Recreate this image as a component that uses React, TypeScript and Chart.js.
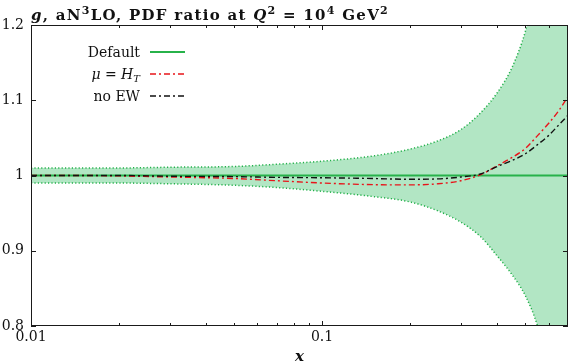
import React, { useEffect, useRef } from "react";
import { Chart, registerables } from "chart.js";
Chart.register(...registerables);

const X_VALUES = [0.01, 0.015, 0.02, 0.03, 0.05, 0.07, 0.1, 0.15, 0.2, 0.25, 0.3, 0.35, 0.4, 0.45, 0.5, 0.55, 0.6, 0.65, 0.7];
const BAND_UPPER = [1.010, 1.010, 1.010, 1.011, 1.012, 1.015, 1.019, 1.026, 1.035, 1.046, 1.061, 1.083, 1.110, 1.144, 1.192, 1.26, 1.35, 1.46, 1.58];
const BAND_LOWER = [0.990, 0.990, 0.990, 0.989, 0.987, 0.984, 0.979, 0.972, 0.965, 0.953, 0.938, 0.919, 0.893, 0.868, 0.840, 0.80, 0.74, 0.67, 0.59];
const DEFAULT_RATIO = [1, 1, 1, 1, 1, 1, 1, 1, 1, 1, 1, 1, 1, 1, 1, 1, 1, 1, 1];
const MU_HT = [1.000, 1.000, 0.9995, 0.998, 0.996, 0.993, 0.990, 0.9878, 0.9875, 0.989, 0.993, 1.001, 1.013, 1.024, 1.036, 1.053, 1.069, 1.086, 1.105];
const NO_EW = [1.000, 1.000, 1.000, 0.999, 0.9985, 0.9975, 0.997, 0.996, 0.995, 0.9955, 0.998, 1.002, 1.012, 1.020, 1.029, 1.041, 1.053, 1.067, 1.080];

const X_MAJOR = [0.01, 0.1];
const X_MINOR = [0.02, 0.03, 0.04, 0.05, 0.06, 0.07, 0.08, 0.09, 0.2, 0.3, 0.4, 0.5, 0.6];
const Y_TICKS = [0.8, 0.9, 1.0, 1.1, 1.2];
const LEGEND_LABELS = ["Default", "μ = H_T", "no EW"];

const SERIF = '"DejaVu Serif", serif';

type Seg = { t: string; font: string; dy?: number };

function drawSegs(ctx: any, segs: Seg[], x: number, y: number, align: "left" | "right", targetWidth?: number) {
  ctx.letterSpacing = "0px";
  let total = 0;
  let chars = 0;
  for (const s of segs) { ctx.font = s.font; total += ctx.measureText(s.t).width; chars += s.t.length; }
  let ls = 0;
  if (targetWidth) ls = Math.max(0, (targetWidth - total) / chars);
  const full = total + ls * chars;
  let cx = align === "left" ? x : x - full;
  ctx.textAlign = "left";
  ctx.textBaseline = "alphabetic";
  for (const s of segs) {
    ctx.font = s.font;
    ctx.letterSpacing = ls + "px";
    ctx.fillText(s.t, cx, y + (s.dy || 0));
    cx += ctx.measureText(s.t).width;
    ctx.letterSpacing = "0px";
  }
  return full;
}

const decor = {
  id: "decor",
  afterDatasetsDraw(chart: any) {
    const { ctx, chartArea, scales } = chart;
    const { left, right, top, bottom } = chartArea;
    const xs = scales.x, ys = scales.y;
    ctx.save();
    ctx.strokeStyle = "#1a1a1a";
    ctx.lineWidth = 1;
    ctx.strokeRect(left + 0.5, top + 0.5, right - left - 1, bottom - top - 1);
    ctx.beginPath();
    const tick = (v: number, len: number) => {
      const px = Math.round(xs.getPixelForValue(v)) + 0.5;
      ctx.moveTo(px, bottom); ctx.lineTo(px, bottom - len);
      ctx.moveTo(px, top); ctx.lineTo(px, top + len);
    };
    X_MAJOR.forEach((v) => tick(v, 5));
    X_MINOR.forEach((v) => tick(v, 3));
    Y_TICKS.forEach((v) => {
      const py = Math.round(ys.getPixelForValue(v)) + 0.5;
      ctx.moveTo(left, py); ctx.lineTo(left + 5, py);
      ctx.moveTo(right, py); ctx.lineTo(right - 5, py);
    });
    ctx.stroke();

    // title
    ctx.fillStyle = "#111";
    const size = 15;
    const b = `bold ${size}px ${SERIF}`;
    const bi = `italic bold ${size}px ${SERIF}`;
    const sup = `bold ${Math.round(size * 0.72)}px ${SERIF}`;
    const segs: Seg[] = [
      { t: "g", font: bi },
      { t: ", aN", font: b },
      { t: "3", font: sup, dy: -6 },
      { t: "LO, PDF ratio at ", font: b },
      { t: "Q", font: bi },
      { t: "2", font: sup, dy: -6 },
      { t: " = 10", font: b },
      { t: "4", font: sup, dy: -6 },
      { t: " GeV", font: b },
      { t: "2", font: sup, dy: -6 },
    ];
    drawSegs(ctx, segs, 31, 20, "left", 358);

    // legend
    const n = `14px ${SERIF}`;
    const it = `italic 14px ${SERIF}`;
    const sub = `italic 10px ${SERIF}`;
    const rows: { segs: Seg[]; color: string; dash: number[]; width: number }[] = [
      { segs: [{ t: LEGEND_LABELS[0], font: n }], color: "#27b24a", dash: [], width: 2 },
      { segs: [{ t: "μ", font: it }, { t: " = ", font: n }, { t: "H", font: it }, { t: "T", font: sub, dy: 3 }], color: "#e8141a", dash: [6, 3, 2, 3], width: 1.4 },
      { segs: [{ t: LEGEND_LABELS[2], font: n }], color: "#111", dash: [6, 3, 2, 3], width: 1.4 },
    ];
    const baselines = [57, 79, 101];
    rows.forEach((r, i) => {
      ctx.fillStyle = "#111";
      drawSegs(ctx, r.segs, 140, baselines[i], "right");
      ctx.beginPath();
      ctx.strokeStyle = r.color;
      ctx.lineWidth = r.width;
      ctx.setLineDash(r.dash);
      const ly = baselines[i] - 5;
      ctx.moveTo(150, ly); ctx.lineTo(185, ly);
      ctx.stroke();
      ctx.setLineDash([]);
    });

    // x axis title
    ctx.fillStyle = "#111";
    ctx.font = `italic bold 15px ${SERIF}`;
    ctx.textAlign = "center";
    ctx.textBaseline = "alphabetic";
    ctx.fillText("x", (left + right) / 2, 361);
    ctx.restore();
  },
};

const pts = (ys: number[]) => X_VALUES.map((x, i) => ({ x, y: ys[i] }));

export default function App() {
  const ref = useRef<HTMLCanvasElement>(null);
  useEffect(() => {
    document.body.style.margin = "0";
    const canvas = ref.current!;
    const chart = new Chart(canvas, {
      type: "line",
      data: {
        datasets: [
          { label: "band+", order: 5, data: pts(BAND_UPPER), borderColor: "#22b04a", borderWidth: 1.5, borderDash: [1.2, 2.2], backgroundColor: "rgb(178,230,196)", fill: "+1", pointRadius: 0, cubicInterpolationMode: "monotone" },
          { label: "band-", order: 4, data: pts(BAND_LOWER), borderColor: "#22b04a", borderWidth: 1.5, borderDash: [1.2, 2.2], fill: false, pointRadius: 0, cubicInterpolationMode: "monotone" },
          { label: "Default", order: 2, data: pts(DEFAULT_RATIO), borderColor: "#27b24a", borderWidth: 2, fill: false, pointRadius: 0 },
          { label: "mu=HT", order: 1, data: pts(MU_HT), borderColor: "#e8141a", borderWidth: 1.4, borderDash: [6, 3, 2, 3], fill: false, pointRadius: 0, cubicInterpolationMode: "monotone" },
          { label: "no EW", order: 0, data: pts(NO_EW), borderColor: "#111", borderWidth: 1.4, borderDash: [6, 3, 2, 3], fill: false, pointRadius: 0, cubicInterpolationMode: "monotone" },
        ],
      },
      plugins: [decor],
      options: {
        animation: false,
        responsive: false,
        devicePixelRatio: 1,
        layout: { padding: { top: 25, right: 2, left: 0, bottom: 0 } },
        plugins: { legend: { display: false }, tooltip: { enabled: false }, title: { display: false } },
        scales: {
          x: {
            type: "logarithmic",
            min: 0.01,
            max: 0.7,
            grid: { display: false, drawTicks: false },
            border: { display: false },
            afterBuildTicks: (s: any) => { s.ticks = X_MAJOR.map((v) => ({ value: v, major: true })); },
            afterFit: (s: any) => { s.height = 38; },
            ticks: { autoSkip: false, maxRotation: 0, padding: 3, color: "#111", font: { family: SERIF, size: 14 }, callback: (v: any) => String(v) },
          },
          y: {
            type: "linear",
            min: 0.8,
            max: 1.2,
            grid: { display: false, drawTicks: false },
            border: { display: false },
            afterBuildTicks: (s: any) => { s.ticks = Y_TICKS.map((v) => ({ value: v })); },
            afterFit: (s: any) => { s.width = 31; },
            ticks: { padding: 7, color: "#111", font: { family: SERIF, size: 14 }, callback: (v: any) => String(Math.round(Number(v) * 10) / 10) },
          },
        },
      } as any,
    });
    return () => chart.destroy();
  }, []);
  return <canvas ref={ref} width={570} height={364} style={{ display: "block" }} />;
}
